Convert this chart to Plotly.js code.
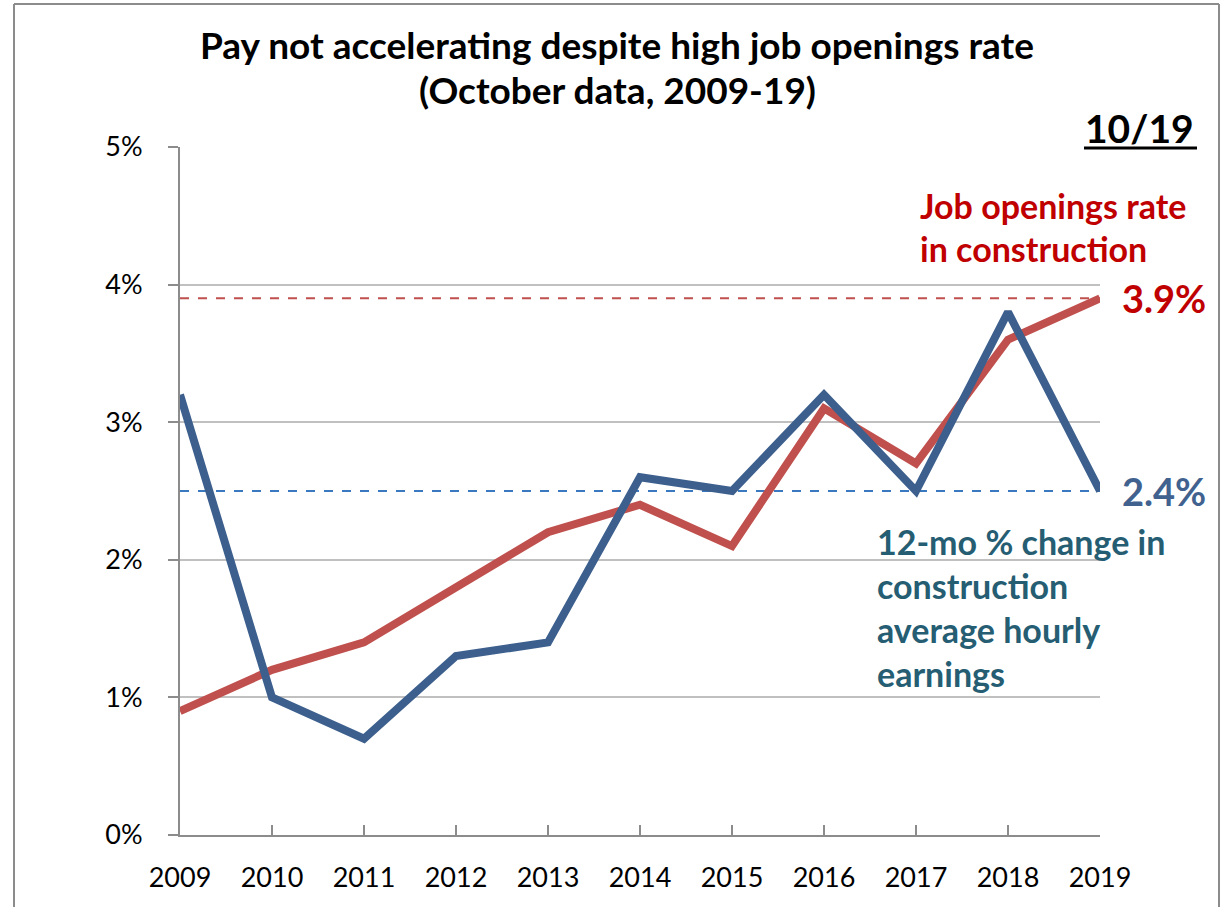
<!DOCTYPE html>
<html>
<head>
<meta charset="utf-8">
<script src="https://cdn.plot.ly/plotly-3.0.1.min.js"></script>
<style>html,body{margin:0;padding:0;background:#fff;}#chart{width:1223px;height:907px;}</style>
</head>
<body>
<div id="chart"></div>
<script>
// Data
const years = [2009, 2010, 2011, 2012, 2013, 2014, 2015, 2016, 2017, 2018, 2019];
const jobOpeningsRate = [0.9, 1.2, 1.4, 1.8, 2.2, 2.4, 2.1, 3.1, 2.7, 3.6, 3.9];
const hourlyEarningsChange = [3.2, 1.0, 0.7, 1.3, 1.4, 2.6, 2.5, 3.2, 2.5, 3.8, 2.5];
const yTickVals = [0, 1, 2, 3, 4, 5];
const yTickText = ["0%", "1%", "2%", "3%", "4%", "5%"];
const jobOpeningsLevel = 3.9;   // dashed reference
const earningsLevel = 2.5;      // dashed reference
const jobOpeningsLabel = "3.9%";
const earningsLabel = "2.4%";
const dateLabel = "10/19";
const titleLines = ["Pay not accelerating despite high job openings rate", "(October data, 2009-19)"];
const redLabelLines = ["Job openings rate", "in construction"];
const blueLabelLines = ["12-mo % change in", "construction", "average hourly", "earnings"];

const FONT = "Lato, 'Open Sans', sans-serif";
const RED = "#C0504D";
const BLUE = "#3C5F8D";

const traces = [
  {x: years, y: jobOpeningsRate, type: "scatter", mode: "lines", name: "Job openings rate",
   line: {color: RED, width: 8}, cliponaxis: false, hoverinfo: "x+y"},
  {x: years, y: hourlyEarningsChange, type: "scatter", mode: "lines", name: "Hourly earnings",
   line: {color: BLUE, width: 8}, cliponaxis: false, hoverinfo: "x+y"}
];

function px2x(px) { return (px - 180) / 920; }
function py2y(py) { return (835 - py) / 688; }

const annotations = [];
const titleY = [45, 90];
titleLines.forEach((t, i) => annotations.push({
  xref: "paper", yref: "paper", x: px2x(617), y: py2y(titleY[i]), xanchor: "center", yanchor: "middle",
  text: "<b>" + t + "</b>", showarrow: false, font: {family: FONT, size: 37, color: "#000"}}));
annotations.push({xref: "paper", yref: "paper", x: px2x(1196), y: py2y(128), xanchor: "right", yanchor: "middle",
   text: "<b>" + dateLabel + "</b>", showarrow: false, font: {family: FONT, size: 39, color: "#000"}});
const redY = [205, 248];
redLabelLines.forEach((t, i) => annotations.push({
  xref: "paper", yref: "paper", x: px2x(918), y: py2y(redY[i]), xanchor: "left", yanchor: "middle",
  text: "<b>" + t + "</b>", showarrow: false, font: {family: FONT, size: 34, color: "#C00000"}}));
annotations.push({xref: "paper", yref: "y", x: px2x(1120), y: jobOpeningsLevel, xanchor: "left", yanchor: "middle",
   text: "<b>" + jobOpeningsLabel + "</b>", showarrow: false, font: {family: FONT, size: 38, color: "#C00000"}});
annotations.push({xref: "paper", yref: "y", x: px2x(1120), y: earningsLevel, xanchor: "left", yanchor: "middle",
   text: "<b>" + earningsLabel + "</b>", showarrow: false, font: {family: FONT, size: 38, color: "#41628F"}});
const blueY = [541, 585, 629, 673];
blueLabelLines.forEach((t, i) => annotations.push({
  xref: "paper", yref: "paper", x: px2x(875), y: py2y(blueY[i]), xanchor: "left", yanchor: "middle",
  text: "<b>" + t + "</b>", showarrow: false, font: {family: FONT, size: 34, color: "#255D73"}}));

const shapes = [
  // dashed reference lines
  {type: "line", xref: "paper", yref: "y", x0: 0, x1: 1, y0: jobOpeningsLevel, y1: jobOpeningsLevel,
   line: {color: RED, width: 2, dash: "dash"}, layer: "below"},
  {type: "line", xref: "paper", yref: "y", x0: 0, x1: 1, y0: earningsLevel, y1: earningsLevel,
   line: {color: "#3A78C0", width: 2, dash: "dash"}, layer: "below"},
  // underline for date label
  {type: "line", xref: "paper", yref: "paper", x0: px2x(1084), x1: px2x(1197), y0: py2y(148), y1: py2y(148),
   line: {color: "#000", width: 3}},
  // outer frame
  {type: "line", xref: "paper", yref: "paper", x0: px2x(14), x1: px2x(14), y0: py2y(4), y1: py2y(910),
   line: {color: "#8C8C8C", width: 2}},
  {type: "line", xref: "paper", yref: "paper", x0: px2x(14), x1: px2x(1219), y0: py2y(4), y1: py2y(4),
   line: {color: "#8C8C8C", width: 2}},
  {type: "line", xref: "paper", yref: "paper", x0: px2x(1219), x1: px2x(1219), y0: py2y(4), y1: py2y(910),
   line: {color: "#8C8C8C", width: 2}}
];

const layout = {
  width: 1223, height: 907,
  margin: {l: 180, r: 123, t: 147, b: 72, pad: 0},
  paper_bgcolor: "#fff", plot_bgcolor: "#fff",
  showlegend: false,
  xaxis: {range: [2009, 2019], tickmode: "array", tickvals: years, ticktext: years.map(String),
          showgrid: false, zeroline: false, showline: true, linecolor: "#8C8C8C", linewidth: 2,
          ticks: "inside", ticklen: 10, tickwidth: 2, tickcolor: "#8C8C8C", ticklabelstandoff: 18,
          tickfont: {family: FONT, size: 27, color: "#000"}, fixedrange: true},
  yaxis: {range: [0, 5], tickmode: "array", tickvals: yTickVals, ticktext: yTickText,
          showgrid: true, gridcolor: "#C0C0C0", gridwidth: 2, zeroline: false,
          showline: true, linecolor: "#8C8C8C", linewidth: 2,
          ticks: "outside", ticklen: 10, tickwidth: 2, tickcolor: "#8C8C8C", ticklabelstandoff: 20,
          tickfont: {family: FONT, size: 27, color: "#000"}, fixedrange: true},
  annotations: annotations,
  shapes: shapes
};

Plotly.newPlot("chart", traces, layout, {displayModeBar: false, staticPlot: true});
</script>
</body>
</html>
